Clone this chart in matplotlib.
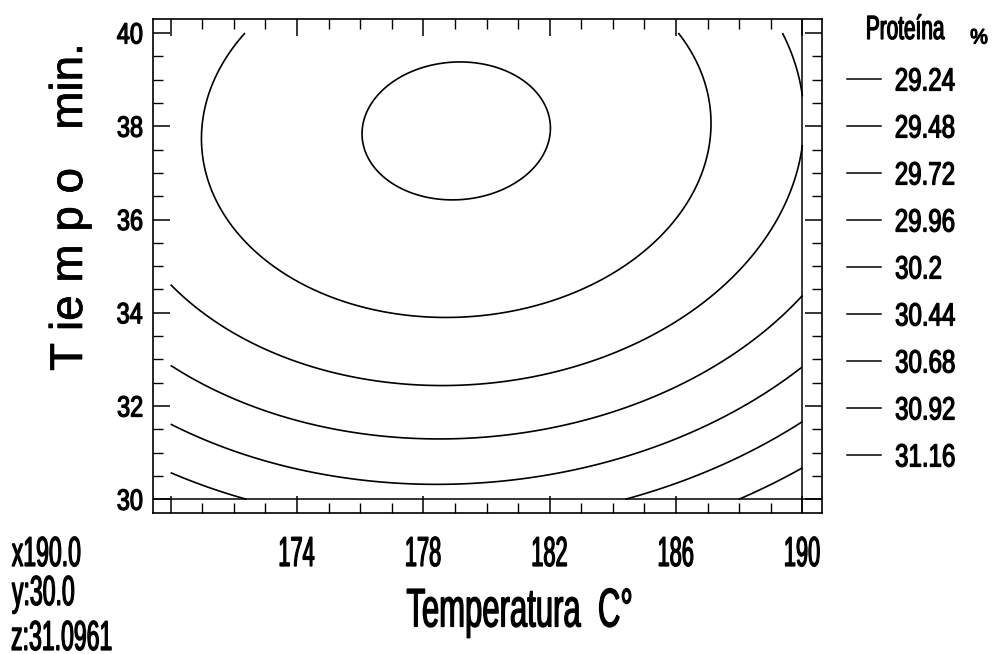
import numpy as np
import matplotlib
matplotlib.use('Agg')
import matplotlib.pyplot as plt
import matplotlib.transforms as mtrans
import matplotlib.patheffects as pe
from matplotlib.textpath import TextPath
from matplotlib.patches import PathPatch
from matplotlib.font_manager import FontProperties

#########################################
# Datos (superficie de respuesta)       #
#########################################

# modelo cuadratico ajustado, forma centrada
T_centro = 179.04      # Temperatura C
t_centro = 37.9        # Tiempo min
z_centro = 29.442      # Proteina % en el centro
coef_TT = 0.00428
coef_tt = 0.0174
coef_Tt = -0.0007

niveles = [29.24, 29.48, 29.72, 29.96, 30.2, 30.44, 30.68, 30.92, 31.16]
niveles_txt = ['29.24', '29.48', '29.72', '29.96', '30.2', '30.44', '30.68', '30.92', '31.16']

rango_T = [170, 190]
rango_t = [30, 40]
x_ticks = [170, 174, 178, 182, 186, 190]
x_ticklabels = ['', '174', '178', '182', '186', '190']
y_ticks = [30, 32, 34, 36, 38, 40]
y_ticklabels = ['30', '32', '34', '36', '38', '40']

cursor_x = 190.0
cursor_y = 30.0
cursor_z = 31.0961

W, H = 995, 654
fuente = FontProperties(family='Liberation Sans')

def proteina(T, t):
    u = T - T_centro
    v = t - t_centro
    return z_centro + coef_TT*u**2 + coef_tt*v**2 + coef_Tt*u*v

# texto estrecho (la fuente original es tipo "narrow"), alto = altura de mayusculas en px
def texto(x, y, s, alto, sx=0.6, ha='center', trans=None, peso=0.9):
    tp = TextPath((0, 0), s, size=100, prop=fuente)
    bb = tp.get_extents()
    k = alto / 71.6
    x0 = {'left': bb.x0, 'center': 0.5*(bb.x0 + bb.x1), 'right': bb.x1}[ha]
    tr = mtrans.Affine2D().translate(-x0, -35.8).scale(k*sx, k) + \
        mtrans.ScaledTranslation(x, y, trans if trans is not None else fig.transFigure)
    fig.add_artist(PathPatch(tp, transform=tr, facecolor='black',
                             edgecolor='black', lw=peso))

T = np.linspace(rango_T[0], rango_T[1], 301)
t = np.linspace(rango_t[0], rango_t[1], 301)
TT, tt = np.meshgrid(T, t)
Z = proteina(TT, tt)

fig = plt.figure(figsize=(W/100, H/100), dpi=100)
ax = fig.add_axes([153/W, 1-513/H, 669/W, 494/H])

ax.contour(TT, tt, Z, levels=niveles, colors='black', linewidths=1.2)
ax.axvline(cursor_x, color='black', lw=1.1)
ax.axhline(cursor_y, color='black', lw=1.1)

ax.set_xlim(169.44, 190.62)
ax.set_ylim(29.706, 40.30)

ax.set_xticks(x_ticks)
ax.set_xticklabels([])
ax.set_xticks(np.arange(170, 191, 1), minor=True)
ax.set_yticks(y_ticks)
ax.set_yticklabels([])
ax.set_yticks(np.arange(30, 40.01, 0.5), minor=True)
ax.tick_params(which='both', direction='in', top=True, right=True)
ax.tick_params(which='major', length=12, width=1.1)
ax.tick_params(which='minor', length=7, width=1.0)
for s in ax.spines.values():
    s.set_linewidth(1.2)

# etiquetas de los ejes
tr_x = mtrans.blended_transform_factory(ax.transData, fig.transFigure)
tr_y = mtrans.blended_transform_factory(fig.transFigure, ax.transData)
for v, lab in zip(x_ticks, x_ticklabels):
    if lab:
        texto(v, 1-551/H, lab, 30, sx=0.52, trans=tr_x)
for v, lab in zip(y_ticks, y_ticklabels):
    texto(142/W, v, lab, 21, sx=0.8, ha='right', trans=tr_y)

fig.text(70/W, 1-207/H, 'T ie m p o   min.', rotation=90, family='Liberation Sans',
         fontsize=33, ha='center', va='center',
         path_effects=[pe.withStroke(linewidth=0.5, foreground='black')])
texto(519/W, 1-607/H, 'Temperatura  C°', 39, sx=0.57)

# posicion del cursor
texto(12/W, 1-551/H, 'x%.1f' % cursor_x, 30, sx=0.55, ha='left')
texto(12/W, 1-590/H, 'y:%.1f' % cursor_y, 30, sx=0.55, ha='left')
texto(12/W, 1-635/H, 'z:%.4f' % cursor_z, 30, sx=0.55, ha='left')

# leyenda
texto(906/W, 1-27/H, 'Proteína', 24, sx=0.62)
texto(979/W, 1-36/H, '%', 15, sx=0.95)
for i, lab in enumerate(niveles_txt):
    yy = 1 - (79 + 47*i)/H
    fig.add_artist(plt.Line2D([847/W, 881/W], [yy, yy], color='black', lw=1.1))
    texto(896/W, yy, lab, 23, sx=0.75, ha='left')

plt.savefig('out.png', dpi=100)
